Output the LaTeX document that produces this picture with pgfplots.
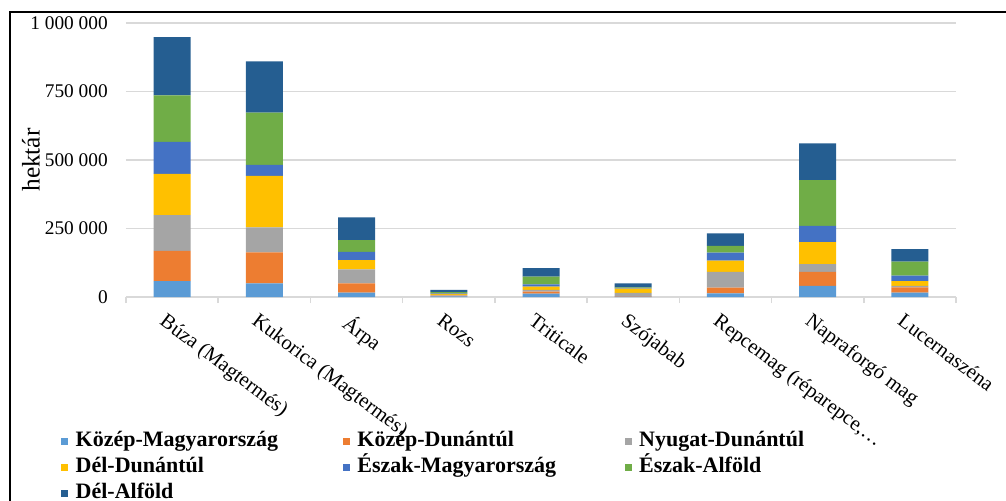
\documentclass[border=0pt]{standalone}
\usepackage{pgfplots}
\pgfplotsset{compat=1.18}
\usepackage{pgfplotstable}
\usepackage{fontspec}
\setmainfont{Liberation Serif}

\definecolor{kmagy}{HTML}{5B9BD5}
\definecolor{kdun}{HTML}{ED7D31}
\definecolor{nydun}{HTML}{A5A5A5}
\definecolor{ddun}{HTML}{FFC000}
\definecolor{emagy}{HTML}{4472C4}
\definecolor{ealf}{HTML}{70AD47}
\definecolor{dalf}{HTML}{255E91}
\definecolor{gridc}{HTML}{D9D9D9}

% hektár, régiónként
\pgfplotstableread{
x km kd nyd dd em ea da
0 58000 110000 131000 150000 117000 170000 212000
1 50000 113000 91000 188000 40000 191000 187000
2 16000 34000 51000 34000 30000 43000 83000
3 2000 3000 3000 3000 2000 5000 8000
4 12000 8000 6000 12000 8000 28000 31000
5 1000 2000 12000 16000 2000 2000 15000
6 13000 21000 58000 41000 29000 25000 45000
7 41000 51000 28000 80000 60000 167000 134000
8 16000 19000 6000 17000 20000 51000 46000
}\termeles

\newcommand{\regio}[1]{\makebox[204pt][l]{\hspace{4.5pt}#1}}

\begin{document}
\begin{tikzpicture}
\useasboundingbox (-94.5pt,-152.25pt) rectangle (660pt,222.75pt);
\draw[line width=1.5pt] (-87pt,-170pt) -- (-87pt,213.75pt) -- (680pt,213.75pt);
\begin{axis}[
	scale only axis,
	width=622.5pt,
	height=205.5pt,
	ybar stacked,
	bar width=27.75pt,
	xmin=-0.5, xmax=8.5,
	ymin=0, ymax=1000000,
	scaled y ticks=false,
	axis lines*=left,
	y axis line style={draw=none},
	x axis line style={draw=gridc, line width=1.1pt},
	ymajorgrids,
	major grid style={draw=gridc, line width=1.1pt},
	ytick={0,250000,500000,750000,1000000},
	yticklabels={0,250 000,500 000,750 000,1 000 000},
	yticklabel style={font=\fontsize{14.5}{16}\selectfont, inner sep=0pt, xshift=-13.5pt},
	major tick length=0pt,
	xtick={0,...,8},
	xticklabels={Búza (Magtermés),Kukorica (Magtermés),Árpa,Rozs,Triticale,Szójabab,{Repcemag (réparepce,…},Napraforgó mag,Lucernaszéna},
	xticklabel style={font=\fontsize{15.5}{17}\selectfont, rotate=-37, anchor=north west, inner sep=0pt, yshift=-11pt, xshift=4pt},
	extra x ticks={-0.5,0.5,...,8.5},
	extra x tick labels={},
	extra x tick style={major tick length=4.5pt, tick align=outside, tick style={draw=gridc, line width=1.1pt}},
	ylabel={hektár},
	ylabel style={at={(axis description cs:-0.1145,0.5)}, anchor=center, font=\fontsize{19}{21}\selectfont},
	legend columns=3,
	legend cell align=left,
	legend image code/.code={\draw[#1, draw=none] (0pt,-2.6pt) rectangle (5.3pt,2.6pt);},
	legend style={at={(axis description cs:-0.0783,-0.485)}, anchor=north west, draw=none, fill=none,
		inner sep=0pt, row sep=2.5pt,
		font=\bfseries\fontsize{16.5}{18}\selectfont,
		nodes={text height=11.5pt, text depth=3.5pt, inner sep=1pt},
		/tikz/every even column/.append style={column sep=0pt}},
]
\addplot[fill=kmagy, draw=none] table[x=x, y=km] {\termeles};
\addplot[fill=kdun, draw=none] table[x=x, y=kd] {\termeles};
\addplot[fill=nydun, draw=none] table[x=x, y=nyd] {\termeles};
\addplot[fill=ddun, draw=none] table[x=x, y=dd] {\termeles};
\addplot[fill=emagy, draw=none] table[x=x, y=em] {\termeles};
\addplot[fill=ealf, draw=none] table[x=x, y=ea] {\termeles};
\addplot[fill=dalf, draw=none] table[x=x, y=da] {\termeles};
\legend{\regio{Közép-Magyarország},\regio{Közép-Dunántúl},\regio{Nyugat-Dunántúl},
	\regio{Dél-Dunántúl},\regio{Észak-Magyarország},\regio{Észak-Alföld},\regio{Dél-Alföld}}
\end{axis}
\end{tikzpicture}
\end{document}
